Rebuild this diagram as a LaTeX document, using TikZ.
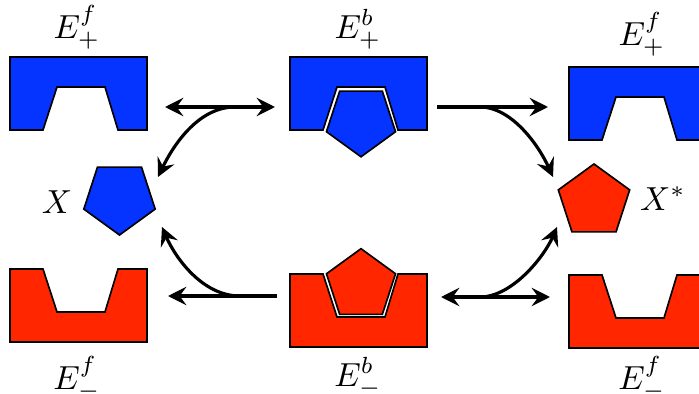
\documentclass[tikz,border=0pt]{standalone}
\usetikzlibrary{arrows.meta}
\definecolor{myblue}{RGB}{5,51,255}
\definecolor{myred}{RGB}{255,38,0}
\tikzset{
  blk/.style={draw=black,line width=0.5pt,line join=miter},
  tip/.tip={Stealth[length=5.5pt,width=5.5pt,inset=2pt]},
  arr/.style={line width=0.95pt,-tip},
  darr/.style={line width=0.95pt,tip-tip},
  lbl/.style={anchor=base,inner sep=0pt},
  topblock/.pic={\path[blk,pic actions] (0,0)--(137,0)--(137,73)--(108,73)--(95,30)--(47,30)--(33,73)--(0,73)--cycle;},
  botblock/.pic={\path[blk,pic actions] (0,0)--(33,0)--(47,43)--(95,43)--(108,0)--(137,0)--(137,73)--(0,73)--cycle;}
}
\begin{document}
\begin{tikzpicture}[x=0.3pt,y=-0.3pt]
\useasboundingbox (0,0) rectangle (699,394);
\clip (0,0) rectangle (699,394);

% blocks
\pic[fill=myblue] at (10,57) {topblock};
\pic[fill=myblue] at (290,57) {topblock};
\pic[fill=myblue] at (569,67) {topblock};
\pic[fill=myred] at (10,269) {botblock};
\pic[fill=myred] at (290,274) {botblock};
\pic[fill=myred] at (569,275) {botblock};

% pentagons
\coordinate (pX) at (119.5,197.5);
\coordinate (pTM) at (361,120.5);
\coordinate (pBM) at (361,285);
\coordinate (pXs) at (594,201.5);
\draw[blk,fill=myblue,shift={(pX)}] (90:37.5)--(162:37.5)--(234:37.5)--(306:37.5)--(18:37.5)--cycle;
\draw[blk,fill=myblue,shift={(pTM)}] (90:36.3)--(162:36.3)--(234:36.3)--(306:36.3)--(18:36.3)--cycle;
\draw[blk,fill=myred,shift={(pBM)}] (270:36.3)--(342:36.3)--(54:36.3)--(126:36.3)--(198:36.3)--cycle;
\draw[blk,fill=myred,shift={(pXs)}] (270:37.5)--(342:37.5)--(54:37.5)--(126:37.5)--(198:37.5)--cycle;

% labels
\node[lbl] (lTL) at (77,38) {$E^f_+$};
\node[lbl] (lTM) at (358,38) {$E^b_+$};
\node[lbl] (lTR) at (642,45) {$E^f_+$};
\node[lbl] (lBL) at (77,389) {$E^f_-$};
\node[lbl] (lBM) at (358,386) {$E^b_-$};
\node[lbl] (lBR) at (642,389) {$E^f_-$};
\node[lbl] (lX) at (57,213) {$X$};
\node[lbl] (lXs) at (663,210) {$X^*$};

% arrow end points
\coordinate (a1) at (165,107);
\coordinate (a2) at (275,107);
\coordinate (j1) at (235,107);
\coordinate (t1) at (158,177);
\coordinate (b1) at (277,296);
\coordinate (b2) at (168,296);
\coordinate (j2) at (240,296);
\coordinate (t2) at (162,227);
\coordinate (c1) at (437,107);
\coordinate (c2) at (548,107);
\coordinate (j3) at (480,107);
\coordinate (t3) at (553,177);
\coordinate (d1) at (441,297);
\coordinate (d2) at (550,297);
\coordinate (j4) at (480,297);
\coordinate (t4) at (557,227);

\draw[darr] (a1) -- (a2);
\draw[arr] (j1) .. controls (197,107) and (172,148) .. (t1);
\draw[arr] (b1) -- (b2);
\draw[arr] (j2) .. controls (202,296) and (175,257) .. (t2);
\draw[arr] (c1) -- (c2);
\draw[arr] (j3) .. controls (512,107) and (539,146) .. (t3);
\draw[darr] (d1) -- (d2);
\draw[arr] (j4) .. controls (512,297) and (544,257) .. (t4);
\end{tikzpicture}
\end{document}
